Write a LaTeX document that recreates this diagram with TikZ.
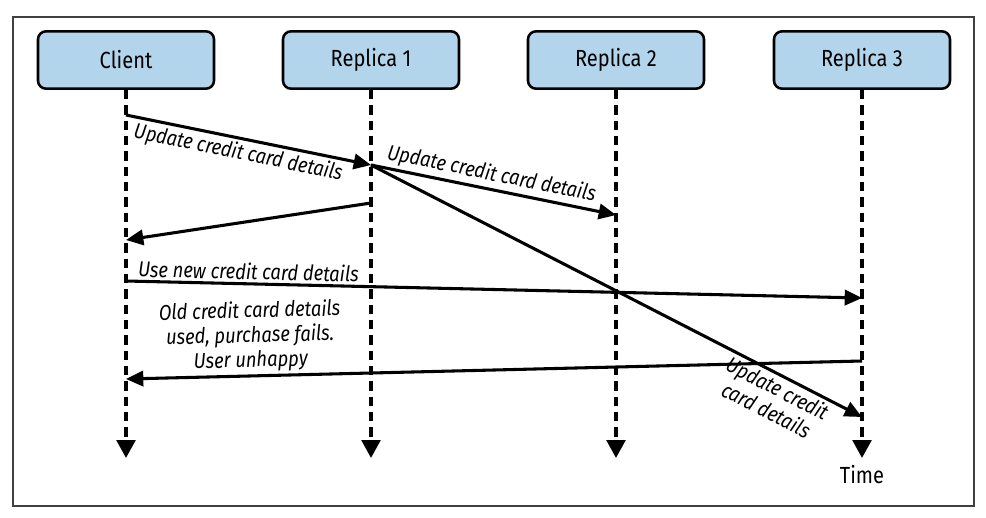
\documentclass[tikz,border=0pt]{standalone}
\usepackage{fontspec}
\setmainfont{Fira Sans}[FakeStretch=0.86]
\usetikzlibrary{arrows.meta,positioning}

\definecolor{boxblue}{RGB}{179,213,235}

\tikzset{
    actor/.style={draw=black,line width=1.9pt,rounded corners=6pt,fill=boxblue,
        minimum width=132pt,minimum height=43pt,font=\fontsize{17.5}{20}\selectfont},
    lifeline/.style={line width=2.7pt,dash pattern=on 7pt off 4.5pt,
        -{Triangle[length=13.5pt,width=14pt]}},
    msg/.style={line width=2.3pt,-{Triangle[length=13pt,width=11.5pt]}},
    msglabel/.style={font=\fontsize{16}{18.5}\selectfont\itshape,sloped,inner sep=2pt,align=center},
}

\begin{document}
\begin{tikzpicture}[x=0.75pt,y=-0.75pt]
    \useasboundingbox (0,0) rectangle (986,518);
    \draw[black!75,line width=0.8pt] (13,17) rectangle (974,506);

    \node[actor] (client) at (126,60) {Client};
    \node[actor] (rep1) at (371,60) {Replica 1};
    \node[actor] (rep2) at (616,60) {Replica 2};
    \node[actor] (rep3) at (862,60) {Replica 3};

    \newcommand{\TimeEnd}{458}
    \coordinate (tend) at (0,\TimeEnd);
    \foreach \who in {client,rep1,rep2,rep3}
        \draw[lifeline] (\who.south) -- (\who |- tend);

    \node[below=4pt of rep3 |- tend,inner sep=1pt,font=\fontsize{17.5}{20}\selectfont] (time) {Time};

    \coordinate (lvA) at (0,115);
    \coordinate (lvB) at (0,165);
    \coordinate (lvC) at (0,215);
    \coordinate (lvD) at (0,417);
    \coordinate (lvE) at (0,203);
    \coordinate (lvF) at (0,240);
    \coordinate (lvG) at (0,281);
    \coordinate (lvH) at (0,298);
    \coordinate (lvI) at (0,361);
    \coordinate (lvJ) at (0,379);

    \draw[msg] (client |- lvA) -- node[msglabel,below,pos=0.47] {Update credit card details} (rep1 |- lvB);
    \draw[msg] (rep1 |- lvB) -- node[msglabel,above,pos=0.48] {Update credit card details} (rep2 |- lvC);
    \draw[msg] (rep1 |- lvB) -- node[msglabel,below,pos=0.84] {Update credit\\card details} (rep3 |- lvD);
    \draw[msg] (rep1 |- lvE) -- (client |- lvF);
    \draw[msg] (client |- lvG) -- node[msglabel,above,pos=0.166] {Use new credit card details} (rep3 |- lvH);
    \draw[msg] (rep3 |- lvI) -- node[msglabel,above,pos=0.83] {Old credit card details\\used, purchase fails.\\User unhappy} (client |- lvJ);
\end{tikzpicture}
\end{document}
